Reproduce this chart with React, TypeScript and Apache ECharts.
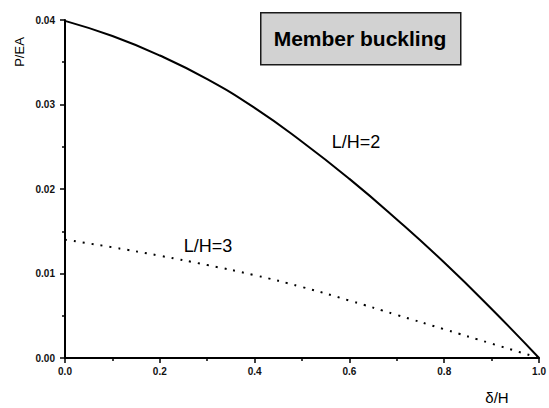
import React, { useEffect, useRef } from "react";
import * as echarts from "echarts";

const xValues = [0, 0.1, 0.2, 0.3, 0.4, 0.5, 0.6, 0.7, 0.8, 0.9, 1.0];
const lh2Values = [0.0399, 0.0381, 0.0358, 0.033, 0.0296, 0.0256, 0.0212, 0.0164, 0.0113, 0.0058, 0.0];
const lh3Values = [0.014, 0.0131, 0.0121, 0.011, 0.0098, 0.0084, 0.0068, 0.0051, 0.0034, 0.0017, 0.0];
const seriesNames = ["L/H=2", "L/H=3"];
const titleText = "Member buckling";
const xAxisName = "δ/H";
const yAxisName = "P/EA";

const FONT = "'Liberation Sans', Arial, sans-serif";

export default function App() {
  const ref = useRef<HTMLDivElement>(null);
  useEffect(() => {
    if (!ref.current) return;
    const chart = echarts.init(ref.current, null, { renderer: "svg" });
    const toPairs = (ys: number[]) => xValues.map((x, i) => [x, ys[i]]);
    chart.setOption({
      animation: false,
      backgroundColor: "#ffffff",
      grid: { left: 65, right: 8, top: 20, bottom: 50, containLabel: false },
      xAxis: {
        type: "value",
        min: 0,
        max: 1,
        interval: 0.2,
        axisLine: { show: true, onZero: false, lineStyle: { color: "#000", width: 2 } },
        axisTick: { show: true, inside: false, length: 5, lineStyle: { color: "#000", width: 1.5 } },
        minorTick: { show: true, splitNumber: 2, length: 3, lineStyle: { color: "#000", width: 1.5 } },
        splitLine: { show: false },
        axisLabel: {
          margin: 8,
          color: "#111",
          fontFamily: FONT,
          fontSize: 10,
          fontWeight: "bold",
          formatter: (v: number) => v.toFixed(1),
        },
      },
      yAxis: {
        type: "value",
        min: 0,
        max: 0.04,
        interval: 0.01,
        axisLine: { show: true, onZero: false, lineStyle: { color: "#000", width: 2 } },
        axisTick: { show: true, inside: false, length: 5, lineStyle: { color: "#000", width: 1.5 } },
        minorTick: { show: true, splitNumber: 2, length: 3, lineStyle: { color: "#000", width: 1.5 } },
        splitLine: { show: false },
        axisLabel: {
          margin: 10,
          color: "#111",
          fontFamily: FONT,
          fontSize: 10,
          fontWeight: "bold",
          formatter: (v: number) => v.toFixed(2),
        },
      },
      series: [
        {
          name: seriesNames[0],
          type: "line",
          data: toPairs(lh2Values),
          smooth: 0.5,
          showSymbol: false,
          lineStyle: { color: "#000", width: 2 },
        },
        {
          name: seriesNames[1],
          type: "line",
          data: toPairs(lh3Values),
          smooth: 0.5,
          showSymbol: false,
          lineStyle: { color: "#000", width: 2, type: [2, 7] },
        },
      ],
      graphic: [
        {
          type: "rect",
          left: 260,
          top: 12,
          shape: { width: 200, height: 52 },
          style: { fill: "#d2d2d2", stroke: "#1a1a1a", lineWidth: 1.5 },
        },
        {
          type: "text",
          x: 360,
          y: 38,
          style: {
            text: titleText,
            fontFamily: FONT,
            fontSize: 21,
            fontWeight: "bold",
            fill: "#000",
            align: "center",
            verticalAlign: "middle",
          },
        },
        {
          type: "text",
          x: 356,
          y: 142,
          style: {
            text: seriesNames[0],
            fontFamily: FONT,
            fontSize: 18,
            fill: "#000",
            align: "center",
            verticalAlign: "middle",
          },
        },
        {
          type: "text",
          x: 208,
          y: 246,
          style: {
            text: seriesNames[1],
            fontFamily: FONT,
            fontSize: 18,
            fill: "#000",
            align: "center",
            verticalAlign: "middle",
          },
        },
        {
          type: "text",
          x: 19,
          y: 52,
          rotation: Math.PI / 2,
          style: {
            text: yAxisName,
            fontFamily: FONT,
            fontSize: 13,
            fill: "#000",
            align: "center",
            verticalAlign: "middle",
          },
        },
        {
          type: "text",
          x: 497,
          y: 397,
          style: {
            text: xAxisName,
            fontFamily: FONT,
            fontSize: 15,
            fill: "#000",
            align: "center",
            verticalAlign: "middle",
          },
        },
      ],
    });
    return () => chart.dispose();
  }, []);
  return <div ref={ref} style={{ width: 549, height: 408, position: "absolute", left: 0, top: 0 }} />;
}
